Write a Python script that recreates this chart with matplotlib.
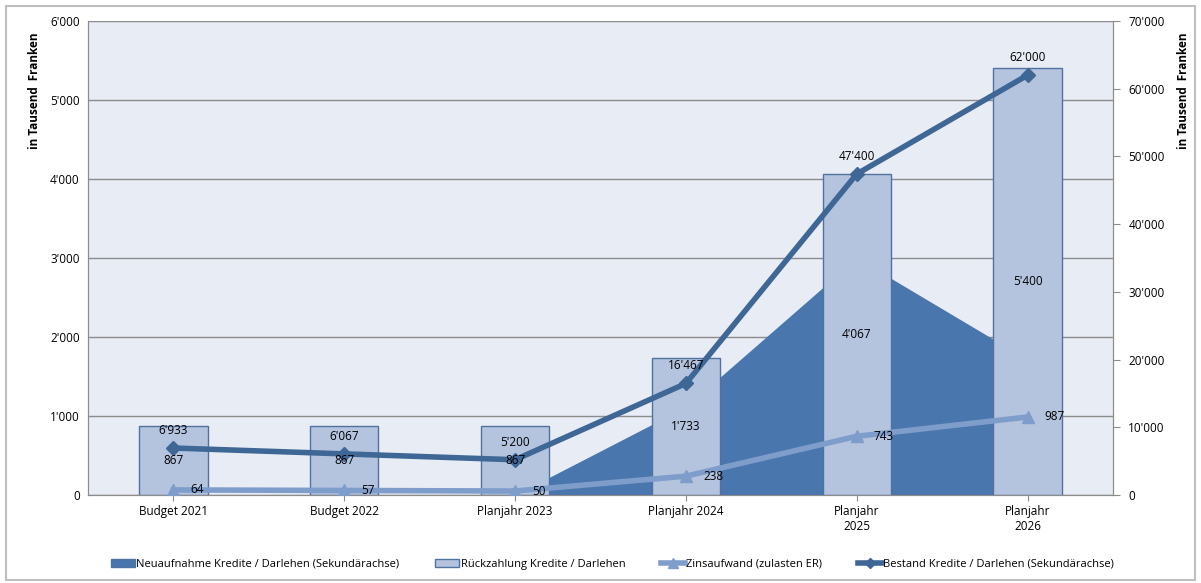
import numpy as np
import matplotlib
matplotlib.use('Agg')
import matplotlib.pyplot as plt
from matplotlib.patches import Rectangle
from matplotlib.ticker import FuncFormatter, MultipleLocator

plt.rcParams['font.family'] = ['Open Sans', 'DejaVu Sans']

# Daten
kategorien = ['Budget 2021', 'Budget 2022', 'Planjahr 2023', 'Planjahr 2024',
              'Planjahr\n2025', 'Planjahr\n2026']
neuaufnahme = [0, 0, 0, 13000, 35000, 20000]      # Sekundärachse
rueckzahlung = [867, 867, 867, 1733, 4067, 5400]
zinsaufwand = [64, 57, 50, 238, 743, 987]
bestand = [6933, 6067, 5200, 16467, 47400, 62000]  # Sekundärachse


def fmt(v, pos=None):
    return '{:,.0f}'.format(v).replace(',', "'")


c_area = '#4A76AE'
c_bar = '#B4C3DE'
c_edge = '#4F72A0'
c_zins = '#7F9DCB'
c_best = '#3E6796'
fs = 8.5

fig = plt.figure(figsize=(12.01, 5.83), dpi=100)
ax = fig.add_axes([0.0733, 0.151, 0.8534, 0.813])
ax2 = ax.twinx()

x = np.arange(len(kategorien))

# Sekundärachse: Fläche + Bestand
ax2.fill_between(x, neuaufnahme, color=c_area, lw=0, zorder=1)
ax2.set_ylim(0, 70000)
ax2.yaxis.set_major_locator(MultipleLocator(10000))
ax2.yaxis.set_major_formatter(FuncFormatter(fmt))

# Primärachse: Balken + Zins
ax.set_zorder(ax2.get_zorder() - 1)
ax.set_facecolor('#E8ECF4')
ax2.patch.set_visible(False)
ax.set_ylim(0, 6000)
ax.yaxis.set_major_locator(MultipleLocator(1000))
ax.yaxis.set_major_formatter(FuncFormatter(fmt))
ax.grid(axis='y', color='#8C8C8C', lw=1)
ax.set_axisbelow(True)
ax.set_xlim(-0.5, len(kategorien) - 0.5)

# Balken auf ax2 zeichnen (skaliert), damit sie über der Fläche liegen
skala = 70000 / 6000
ax2.bar(x, np.array(rueckzahlung) * skala, width=0.4, color=c_bar,
        edgecolor=c_edge, lw=1, zorder=2)
for xi, v in zip(x, rueckzahlung):
    ax2.text(xi, v * skala / 2, fmt(v), ha='center', va='center', fontsize=fs, zorder=6)

ax2.plot(x, np.array(zinsaufwand) * skala, color=c_zins, lw=4, marker='^',
         ms=9, zorder=4)
for xi, v in zip(x, zinsaufwand):
    ax2.text(xi + 0.1, v * skala, fmt(v), ha='left', va='center', fontsize=fs, zorder=6)

ax2.plot(x, bestand, color=c_best, lw=4, marker='D', ms=7, zorder=5)
for xi, v in zip(x, bestand):
    ax2.text(xi, v + 2600, fmt(v), ha='center', va='center', fontsize=fs, zorder=6)

ax.set_xticks(x)
ax.set_xticklabels(kategorien, fontsize=fs)
ax.tick_params(axis='x', length=4, color='#8C8C8C')
ax.tick_params(axis='y', length=0, labelsize=fs, pad=6)
ax2.tick_params(axis='y', length=5, color='#8C8C8C', labelsize=fs, pad=6)
for a in (ax, ax2):
    for s in a.spines.values():
        s.set_color('#8C8C8C')
    a.spines['top'].set_visible(False)

ax.set_ylabel('in Tausend  Franken', fontsize=fs, fontweight='bold', loc='top')
ax.yaxis.set_label_coords(-0.046, 0.975, transform=ax.transAxes)
ax2.set_ylabel('in Tausend  Franken', fontsize=fs, fontweight='bold', loc='top')
ax2.yaxis.set_label_coords(1.062, 0.975, transform=ax.transAxes)

# Legende
h1 = Rectangle((0, 0), 1, 1, fc=c_area, ec=c_edge)
h2 = Rectangle((0, 0), 1, 1, fc=c_bar, ec=c_edge)
h3, = ax.plot([], [], color=c_zins, lw=4, marker='^', ms=7)
h4, = ax.plot([], [], color=c_best, lw=4, marker='D', ms=5)
fig.legend([h1, h2, h3, h4],
           ['Neuaufnahme Kredite / Darlehen (Sekundärachse)',
            'Rückzahlung Kredite / Darlehen',
            'Zinsaufwand (zulasten ER)',
            'Bestand Kredite / Darlehen (Sekundärachse)'],
           loc='center', bbox_to_anchor=(0.51, 0.032), ncol=4, frameon=False,
           fontsize=fs - 0.5, handlelength=2.2, handletextpad=0.1, columnspacing=3.2)

fig.patches.append(Rectangle((0.005, 0.005), 0.99, 0.985, transform=fig.transFigure,
                             fill=False, ec='#BFBFBF', lw=1.5))

fig.savefig('out.png', dpi=100)
